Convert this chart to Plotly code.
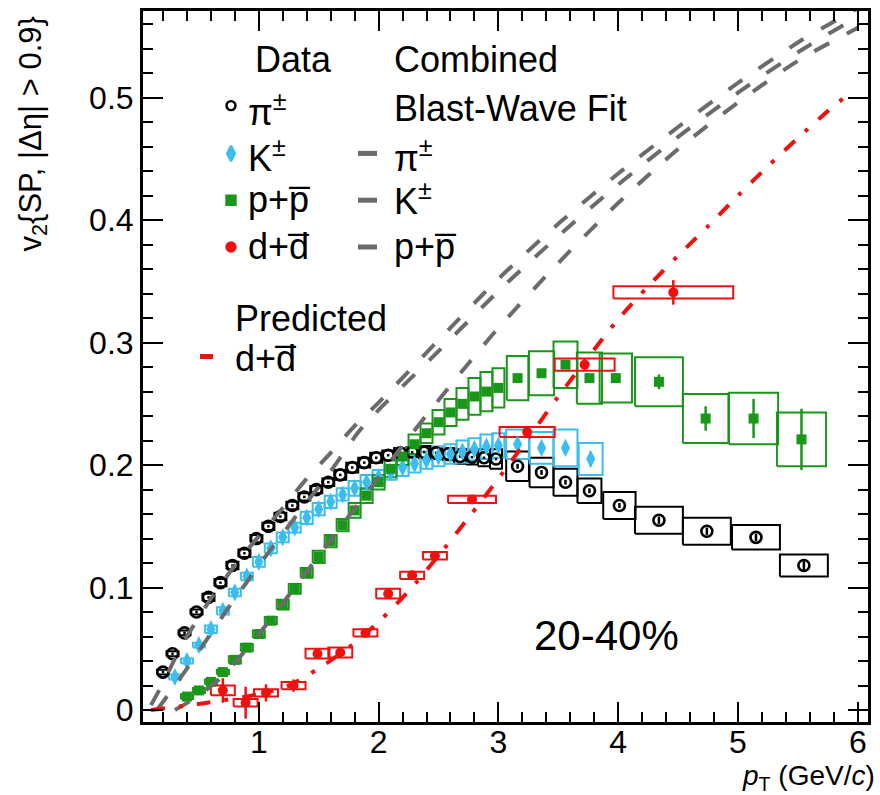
import plotly.graph_objects as go

# ---------------- data ----------------
# pi+-  (open black circles)
pi_pt = [0.20, 0.28, 0.38, 0.48, 0.58, 0.68, 0.78, 0.88, 0.98, 1.08, 1.18, 1.28, 1.38, 1.48,
         1.58, 1.68, 1.78, 1.88, 1.98, 2.08, 2.18, 2.28, 2.38, 2.48, 2.58, 2.68, 2.78, 2.88,
         2.98, 3.16, 3.36, 3.56, 3.76, 4.01, 4.34, 4.74, 5.15, 5.55]
pi_v2 = [0.031, 0.046, 0.063, 0.080, 0.092, 0.104, 0.118, 0.128, 0.140, 0.150, 0.158, 0.167, 0.174, 0.180,
         0.186, 0.192, 0.198, 0.202, 0.206, 0.208, 0.210, 0.2105, 0.2105, 0.210, 0.209, 0.207, 0.2065, 0.206,
         0.205, 0.199, 0.194, 0.186, 0.179, 0.167, 0.155, 0.146, 0.141, 0.118]
pi_stat = [0.001] * 29 + [0.002, 0.002, 0.002, 0.002, 0.002, 0.003, 0.003, 0.003, 0.004]
pi_sys = [0.002, 0.002, 0.002, 0.002, 0.003, 0.003, 0.003, 0.003, 0.003, 0.003, 0.003, 0.003, 0.003, 0.003,
          0.003, 0.004, 0.004, 0.004, 0.004, 0.004, 0.004, 0.004, 0.005, 0.005, 0.005, 0.006, 0.006, 0.007,
          0.008, 0.012, 0.012, 0.011, 0.010, 0.011, 0.011, 0.011, 0.010, 0.009]
pi_hw = [0.05] * 29 + [0.095, 0.10, 0.10, 0.10, 0.135, 0.20, 0.20, 0.20, 0.20]

# K+-  (blue diamonds)
ka_pt = [0.3, 0.4, 0.5, 0.6, 0.7, 0.8, 0.9, 1.0, 1.1, 1.2, 1.3, 1.4, 1.5, 1.6, 1.7, 1.8, 1.9, 2.0,
         2.1, 2.2, 2.3, 2.4, 2.5, 2.6, 2.7, 2.8, 2.9, 3.0, 3.16, 3.36, 3.56, 3.77]
ka_v2 = [0.027, 0.040, 0.053, 0.066, 0.081, 0.096, 0.109, 0.121, 0.132, 0.141, 0.149, 0.157, 0.164, 0.170,
         0.176, 0.181, 0.186, 0.190, 0.194, 0.198, 0.201, 0.204, 0.207, 0.209, 0.211, 0.213, 0.215, 0.216,
         0.217, 0.214, 0.214, 0.205]
ka_stat = [0.001] * 28 + [0.003, 0.004, 0.005, 0.006]
ka_sys = [0.002, 0.002, 0.002, 0.003, 0.003, 0.003, 0.003, 0.004, 0.004, 0.004, 0.004, 0.005, 0.005, 0.005,
          0.005, 0.006, 0.006, 0.006, 0.006, 0.007, 0.007, 0.007, 0.008, 0.008, 0.009, 0.009, 0.010, 0.010,
          0.012, 0.013, 0.015, 0.013]
ka_hw = [0.05] * 28 + [0.095, 0.10, 0.10, 0.10]

# p+pbar  (green squares)
pr_pt = [0.4, 0.5, 0.6, 0.7, 0.8, 0.9, 1.0, 1.1, 1.2, 1.3, 1.4, 1.5, 1.6, 1.7, 1.8, 1.9, 2.0, 2.1,
         2.2, 2.3, 2.4, 2.5, 2.6, 2.7, 2.8, 2.9, 3.0, 3.16, 3.36, 3.56, 3.76, 3.98, 4.34, 4.73, 5.13, 5.53]
pr_v2 = [0.011, 0.016, 0.023, 0.031, 0.041, 0.051, 0.062, 0.073, 0.086, 0.099, 0.112, 0.125, 0.138, 0.151,
         0.163, 0.175, 0.186, 0.197, 0.207, 0.217, 0.226, 0.235, 0.243, 0.250, 0.256, 0.260, 0.263,
         0.271, 0.275, 0.282, 0.271, 0.271, 0.268, 0.238, 0.238, 0.221]
pr_stat = [0.001] * 27 + [0.002, 0.002, 0.003, 0.003, 0.004, 0.006, 0.010, 0.016, 0.025]
pr_sys = [0.002, 0.002, 0.002, 0.002, 0.003, 0.003, 0.003, 0.003, 0.004, 0.004, 0.004, 0.005, 0.005, 0.005,
          0.006, 0.006, 0.006, 0.007, 0.007, 0.008, 0.008, 0.010, 0.011, 0.013, 0.015, 0.016, 0.016,
          0.018, 0.018, 0.019, 0.021, 0.020, 0.020, 0.020, 0.021, 0.022]
pr_hw = [0.05] * 27 + [0.09, 0.105, 0.10, 0.105, 0.135, 0.20, 0.19, 0.205, 0.205]

# d+dbar  (red circles)
de_pt = [0.70, 0.89, 1.06, 1.29, 1.49, 1.68, 1.89, 2.08, 2.28, 2.47, 2.78, 3.24, 3.72, 4.46]
de_v2 = [0.016, 0.006, 0.014, 0.020, 0.046, 0.047, 0.063, 0.095, 0.110, 0.126, 0.172, 0.227, 0.282, 0.341]
de_stat = [0.010, 0.013, 0.007, 0.005, 0.003, 0.003, 0.002, 0.002, 0.002, 0.002, 0.002, 0.004, 0.005, 0.010]
de_sys = [0.004, 0.003, 0.003, 0.003, 0.004, 0.004, 0.003, 0.004, 0.003, 0.003, 0.003, 0.004, 0.005, 0.005]
de_hw = [0.10, 0.10, 0.10, 0.10, 0.10, 0.10, 0.10, 0.10, 0.10, 0.10, 0.20, 0.23, 0.25, 0.50]

# combined blast-wave fit curves
bw_pi_pt = [0.1, 0.2, 0.3, 0.4, 0.6, 0.8, 1.0, 1.2, 1.4, 1.6, 1.8, 2.0, 2.5, 3.0, 3.5, 4.0, 4.5, 5.0, 5.5, 6.0]
bw_pi_v2 = [0.004, 0.022, 0.042, 0.060, 0.091, 0.118, 0.142, 0.165, 0.189, 0.210, 0.232, 0.251, 0.302,
            0.352, 0.397, 0.438, 0.476, 0.512, 0.545, 0.573]
bw_ka_pt = [0.15, 0.3, 0.5, 0.7, 1.0, 1.3, 1.6, 1.84, 2.0, 2.5, 3.0, 3.5, 4.0, 4.5, 5.0, 5.5, 6.0]
bw_ka_v2 = [0.0, 0.020, 0.048, 0.077, 0.118, 0.157, 0.195, 0.228, 0.245, 0.293, 0.342, 0.387, 0.429,
            0.468, 0.504, 0.537, 0.566]
bw_pr_pt = [0.3, 0.5, 0.7, 1.0, 1.3, 1.6, 2.0, 2.2, 2.5, 2.75, 3.0, 3.5, 4.0, 4.5, 5.0, 5.5, 6.0]
bw_pr_v2 = [0.0, 0.012, 0.028, 0.062, 0.100, 0.139, 0.190, 0.216, 0.253, 0.283, 0.312, 0.365, 0.414,
            0.458, 0.496, 0.530, 0.557]

# predicted d+dbar
pred_pt = [0.1, 0.5, 1.0, 1.25, 1.5, 1.75, 2.0, 2.25, 2.5, 2.75, 3.0, 3.25, 3.5, 3.75, 4.0, 4.25,
           4.5, 4.75, 5.0, 5.25, 5.5, 5.75, 5.95]
pred_v2 = [0.0, 0.005, 0.013, 0.020, 0.034, 0.051, 0.072, 0.097, 0.126, 0.157, 0.189, 0.222, 0.256,
           0.288, 0.319, 0.346, 0.371, 0.395, 0.420, 0.444, 0.467, 0.489, 0.505]

# ---------------- style ----------------
BLACK = "#000000"
BLUE = "#3bbdf0"
GREEN = "#1a961a"
RED = "#f01010"
GRAY = "#6b6b6b"
FONT = "Liberation Sans, Arial, sans-serif"

W, H = 880, 795
PL, PR, PT, PB = 143, 868, 8, 722          # plot-area edges in pixels
X0PX, XSCALE = 139.0, 119.8               # pixel of pT=0 and pixels per GeV/c
Y0PX, YSCALE = 710.0, 1230.0              # pixel of v2=0 and pixels per unit


def xdata(px):
    return (px - X0PX) / XSCALE


def ydata(py):
    return (Y0PX - py) / YSCALE


def xpaper(px):
    return (px - PL) / (PR - PL)


def ypaper(py):
    return (PB - py) / (PB - PT)


def boxes(xs, ys, hws, hss):
    bx, by = [], []
    for x, y, w, s in zip(xs, ys, hws, hss):
        bx += [x - w, x + w, x + w, x - w, x - w, None]
        by += [y - s, y - s, y + s, y + s, y - s, None]
    return bx, by


fig = go.Figure()

# systematic-uncertainty boxes
for xs, ys, hw, hs, col in [(pi_pt, pi_v2, pi_hw, pi_sys, BLACK),
                            (ka_pt, ka_v2, ka_hw, ka_sys, BLUE),
                            (pr_pt, pr_v2, pr_hw, pr_sys, GREEN),
                            (de_pt, de_v2, de_hw, de_sys, RED)]:
    bx, by = boxes(xs, ys, hw, hs)
    fig.add_trace(go.Scatter(x=bx, y=by, mode="lines", line=dict(color=col, width=2),
                             hoverinfo="skip", connectgaps=False))

# data points with statistical errors
fig.add_trace(go.Scatter(x=pi_pt, y=pi_v2, mode="markers",
                         marker=dict(symbol="circle-open", size=11, color=BLACK, line=dict(width=2.6, color=BLACK)),
                         error_y=dict(type="data", array=pi_stat, width=0, thickness=2.5, color=BLACK)))
fig.add_trace(go.Scatter(x=ka_pt, y=ka_v2, mode="markers",
                         marker=dict(symbol="diamond-tall", size=13, color=BLUE),
                         error_y=dict(type="data", array=ka_stat, width=0, thickness=2.5, color=BLUE)))
fig.add_trace(go.Scatter(x=pr_pt, y=pr_v2, mode="markers",
                         marker=dict(symbol="square", size=10, color=GREEN),
                         error_y=dict(type="data", array=pr_stat, width=0, thickness=2.5, color=GREEN)))
fig.add_trace(go.Scatter(x=de_pt, y=de_v2, mode="markers",
                         marker=dict(symbol="circle", size=10, color=RED),
                         error_y=dict(type="data", array=de_stat, width=0, thickness=2.5, color=RED)))

# blast-wave curves
for xs, ys in [(bw_pi_pt, bw_pi_v2), (bw_ka_pt, bw_ka_v2), (bw_pr_pt, bw_pr_v2)]:
    fig.add_trace(go.Scatter(x=xs, y=ys, mode="lines",
                             line=dict(color=GRAY, width=4, dash="17px,20px", shape="spline", smoothing=0.8)))

# predicted deuteron curve
fig.add_trace(go.Scatter(x=pred_pt, y=pred_v2, mode="lines",
                         line=dict(color=RED, width=4, dash="14px,14px,4px,14px", shape="spline", smoothing=0.8)))

# ---------------- legend ----------------
MARK_ROWS = [103, 151, 198, 245]          # marker / line-sample rows
TEXT_ROWS = [107, 154, 197, 244]          # matching text rows
MX = 231
leg_syms = [("circle-open", BLACK, 9), ("diamond-tall", BLUE, 11), ("square", GREEN, 9), ("circle", RED, 9)]
for (sym, col, sz), ry in zip(leg_syms, MARK_ROWS):
    fig.add_trace(go.Scatter(x=[xdata(MX)], y=[ydata(ry)], mode="markers",
                             marker=dict(symbol=sym, size=sz, color=col, line=dict(width=2.4, color=col))))

annotations = []


def label(text, px, py, size=36, anchor="left"):
    annotations.append(dict(text=text, x=xpaper(px), y=ypaper(py), xref="paper", yref="paper",
                            xanchor=anchor, yanchor="middle", showarrow=False,
                            font=dict(family=FONT, size=size, color="black")))


PBAR = "p\u0305"
DBAR = "d\u0305"
label("Data", 253, 57)
label("Combined", 392, 57)
label("Blast-Wave Fit", 392, 106)
label("\u03c0<sup>\u00b1</sup>", 246, TEXT_ROWS[0])
label("K<sup>\u00b1</sup>", 246, TEXT_ROWS[1])
label("p+" + PBAR, 246, TEXT_ROWS[2])
label("d+" + DBAR, 246, TEXT_ROWS[3])
label("\u03c0<sup>\u00b1</sup>", 392, TEXT_ROWS[1])
label("K<sup>\u00b1</sup>", 392, TEXT_ROWS[2])
label("p+" + PBAR, 392, TEXT_ROWS[3])
label("Predicted", 233, 317)
label("d+" + DBAR, 233, 357)
label("20-40%", 606, 635, size=42, anchor="center")

shapes = []
for ry in MARK_ROWS[1:]:
    shapes.append(dict(type="line", xref="paper", yref="paper", x0=xpaper(358), x1=xpaper(377),
                       y0=ypaper(ry), y1=ypaper(ry), line=dict(color=GRAY, width=5)))
shapes.append(dict(type="line", xref="paper", yref="paper", x0=xpaper(200), x1=xpaper(213),
                   y0=ypaper(355), y1=ypaper(355), line=dict(color=RED, width=5)))

# axis titles
annotations.append(dict(text="<i>p</i><sub>T</sub> (GeV/<i>c</i>)", x=xpaper(877), y=ypaper(778),
                        xref="paper", yref="paper", xanchor="right", yanchor="middle", showarrow=False,
                        font=dict(family=FONT, size=28, color="black")))
annotations.append(dict(text="v<sub>2</sub>{SP, |\u0394\u03b7| > 0.9}", x=xpaper(33), y=ypaper(12),
                        xref="paper", yref="paper", xanchor="center", yanchor="top", textangle=-90,
                        showarrow=False, font=dict(family=FONT, size=31, color="black")))

axis_common = dict(showgrid=False, zeroline=False, showline=True, linecolor="black", linewidth=3,
                   mirror="allticks", ticks="inside", ticklen=20, tickwidth=2, tickcolor="black",
                   tickfont=dict(family=FONT, size=32, color="black"))

fig.update_xaxes(range=[xdata(PL), xdata(PR)], tick0=0, dtick=1, ticklabelstandoff=-10,
                 minor=dict(ticks="inside", ticklen=10, tickwidth=2, tickcolor="black", dtick=0.2, tick0=0),
                 **axis_common)
fig.update_yaxes(range=[ydata(PB), ydata(PT)], tick0=0, dtick=0.1,
                 minor=dict(ticks="inside", ticklen=10, tickwidth=2, tickcolor="black", dtick=0.02, tick0=0),
                 **axis_common)

fig.update_layout(width=W, height=H, margin=dict(l=PL, r=W - PR, t=PT, b=H - PB, pad=0),
                  plot_bgcolor="white", paper_bgcolor="white", showlegend=False,
                  annotations=annotations, shapes=shapes)

fig.write_html("out.html")
